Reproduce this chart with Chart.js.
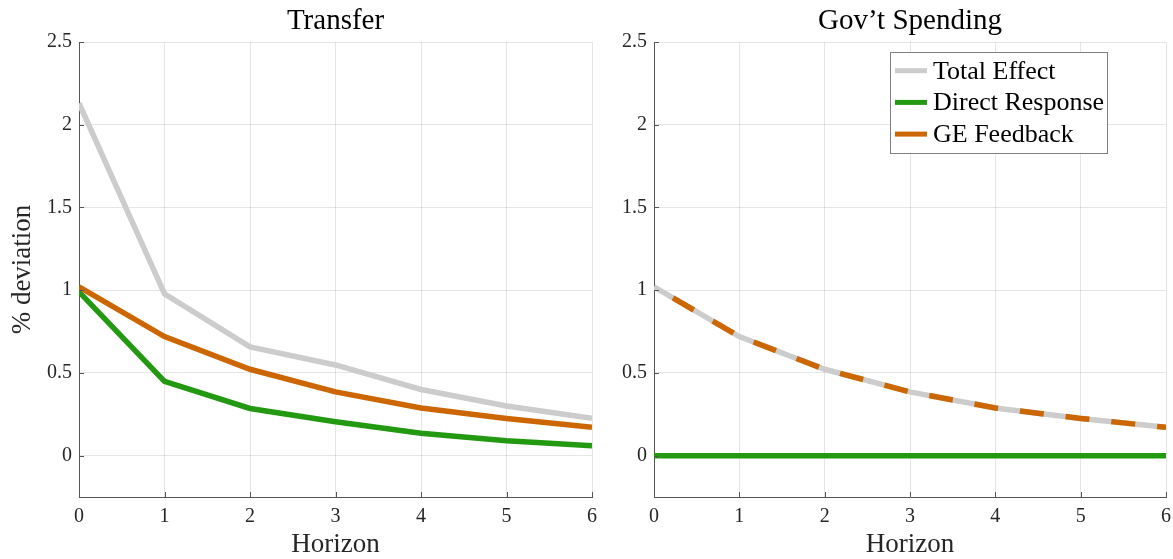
<!DOCTYPE html>
<html><head><meta charset="utf-8">
<script src="https://cdn.jsdelivr.net/npm/chart.js@4.4.0/dist/chart.umd.min.js"></script>
<style>
html,body{margin:0;padding:0;background:#fff;}
#wrap{position:relative;width:1173px;height:559px;overflow:hidden;}
#c1box{position:absolute;left:0;top:0;width:600px;height:559px;}
#c2box{position:absolute;left:600px;top:0;width:573px;height:559px;}
</style></head><body>
<div id="wrap"><div id="c1box"><canvas id="c1"></canvas></div><div id="c2box"><canvas id="c2"></canvas></div></div>
<script>
const horizon = [0,1,2,3,4,5,6];
const transferTotal = [2.13,0.978,0.657,0.548,0.40,0.30,0.226];
const transferDirect = [0.99,0.449,0.285,0.205,0.135,0.09,0.06];
const transferGE = [1.02,0.72,0.522,0.385,0.288,0.225,0.171];
const govTotal = [1.02,0.72,0.522,0.385,0.288,0.225,0.171];
const govDirect = [0,0,0,0,0,0,0];
const govGE = [1.02,0.72,0.522,0.385,0.288,0.225,0.171];
const yTicks = [0,0.5,1,1.5,2,2.5];
const xTicks = [0,1,2,3,4,5,6];
const seriesLabels = ['Total Effect','Direct Response','GE Feedback'];
const panelTitles = ['Transfer','Gov\u2019t Spending'];
const xTitle = 'Horizon';
const yTitle = '% deviation';

const FONT = "'Liberation Serif', 'DejaVu Serif', serif";
const COLORS = ['#cccccc', '#229911', '#cc6600'];
const TICKCOL = '#262626';
const AXISCOL = '#555555';

function pts(arr){ return horizon.map((h,i)=>({x:h,y:arr[i]})); }

const titlePlugin = {
  id:'panelTitle',
  afterDraw(chart, args, opts){
    const ctx = chart.ctx, a = chart.chartArea;
    ctx.save();
    ctx.font = '29px ' + FONT;
    ctx.fillStyle = '#000';
    ctx.textAlign = 'center';
    ctx.textBaseline = 'alphabetic';
    ctx.fillText(opts.text, (a.left + a.right)/2, 29);
    ctx.restore();
  }
};

const innerTicks = {
  id:'innerTicks',
  afterDraw(chart){
    const ctx = chart.ctx, a = chart.chartArea;
    const xs = chart.scales.x, ys = chart.scales.y;
    ctx.save();
    ctx.strokeStyle = AXISCOL; ctx.lineWidth = 1;
    ctx.beginPath();
    xTicks.forEach(v=>{ const px = Math.round(xs.getPixelForValue(v))+0.5; ctx.moveTo(px, a.bottom); ctx.lineTo(px, a.bottom-5); });
    yTicks.forEach(v=>{ const py = Math.round(ys.getPixelForValue(v))+0.5; ctx.moveTo(a.left, py); ctx.lineTo(a.left+5, py); });
    ctx.stroke();
    ctx.restore();
  }
};

const boxLegend = {
  id:'boxLegend',
  afterDraw(chart, args, opts){
    if(!opts.show) return;
    const ctx = chart.ctx, a = chart.chartArea;
    const bx = a.right - 59 - 217, by = a.top + 10, bw = 217, bh = 101;
    ctx.save();
    ctx.fillStyle = '#fff';
    ctx.fillRect(bx, by, bw, bh);
    ctx.strokeStyle = '#7f7f7f'; ctx.lineWidth = 1;
    ctx.strokeRect(Math.round(bx)+0.5, Math.round(by)+0.5, bw, bh);
    ctx.font = '26px ' + FONT;
    ctx.textBaseline = 'middle';
    ctx.textAlign = 'left';
    seriesLabels.forEach((lab,i)=>{
      const cy = by + 18.7 + i*31.7;
      ctx.strokeStyle = COLORS[i]; ctx.lineWidth = 5; ctx.setLineDash([]);
      ctx.beginPath(); ctx.moveTo(bx+5, cy); ctx.lineTo(bx+37, cy); ctx.stroke();
      ctx.fillStyle = '#000';
      ctx.fillText(lab, bx+43, cy+1);
    });
    ctx.restore();
  }
};

function makeChart(id, title, total, direct, ge, opts){
  const ds = [
    {label:seriesLabels[0], data:pts(total), borderColor:COLORS[0], borderWidth:5.5, pointRadius:0, fill:false, tension:0, order:3},
    {label:seriesLabels[1], data:pts(direct), borderColor:COLORS[1], borderWidth:5.5, pointRadius:0, fill:false, tension:0, order:2},
    {label:seriesLabels[2], data:pts(ge), borderColor:COLORS[2], borderWidth:5.5, pointRadius:0, fill:false, tension:0, order:1,
      borderDash: opts.dashGE ? [24,22] : [], borderDashOffset: opts.dashGE ? 24 : 0}
  ];
  return new Chart(document.getElementById(id), {
    type:'line',
    data:{datasets:ds},
    plugins:[titlePlugin, innerTicks, boxLegend],
    options:{
      responsive:true, maintainAspectRatio:false, animation:false,
      layout:{padding:{left:0, right:opts.padRight, top:42, bottom:0}},
      plugins:{legend:{display:false}, tooltip:{enabled:false},
        panelTitle:{text:title}, boxLegend:{show:opts.legend}},
      scales:{
        x:{type:'linear', min:0, max:6,
          afterBuildTicks(s){ s.ticks = xTicks.map(v=>({value:v})); },
          afterFit(s){ s.height = 62; s.paddingLeft = 0; s.paddingRight = 0; },
          grid:{color:'rgba(0,0,0,0.1)', drawTicks:false},
          border:{display:true, color:AXISCOL, width:1},
          ticks:{padding:8, color:TICKCOL, font:{family:FONT, size:20}, maxRotation:0, callback:v=>String(v)},
          title:{display:true, text:xTitle, color:TICKCOL, font:{family:FONT, size:27, lineHeight:1}, padding:{top:0,bottom:1}}
        },
        y:{type:'linear', min:-0.25, max:2.5,
          afterBuildTicks(s){ s.ticks = yTicks.map(v=>({value:v})); },
          afterFit(s){ s.width = opts.yWidth; s.paddingTop = 0; s.paddingBottom = 0; },
          grid:{color:'rgba(0,0,0,0.1)', drawTicks:false},
          border:{display:true, color:AXISCOL, width:1},
          ticks:{padding:7, color:TICKCOL, font:{family:FONT, size:20}, callback:v=>String(v)},
          title:{display:opts.yTitle, text:yTitle, color:TICKCOL, font:{family:FONT, size:27, lineHeight:1}, padding:{top:9,bottom:0}}
        }
      }
    }
  });
}

makeChart('c1', panelTitles[0], transferTotal, transferDirect, transferGE, {padRight:8, yWidth:79, yTitle:true, legend:false, dashGE:false});
makeChart('c2', panelTitles[1], govTotal, govDirect, govGE, {padRight:7, yWidth:54, yTitle:false, legend:true, dashGE:true});
</script>
</body></html>
